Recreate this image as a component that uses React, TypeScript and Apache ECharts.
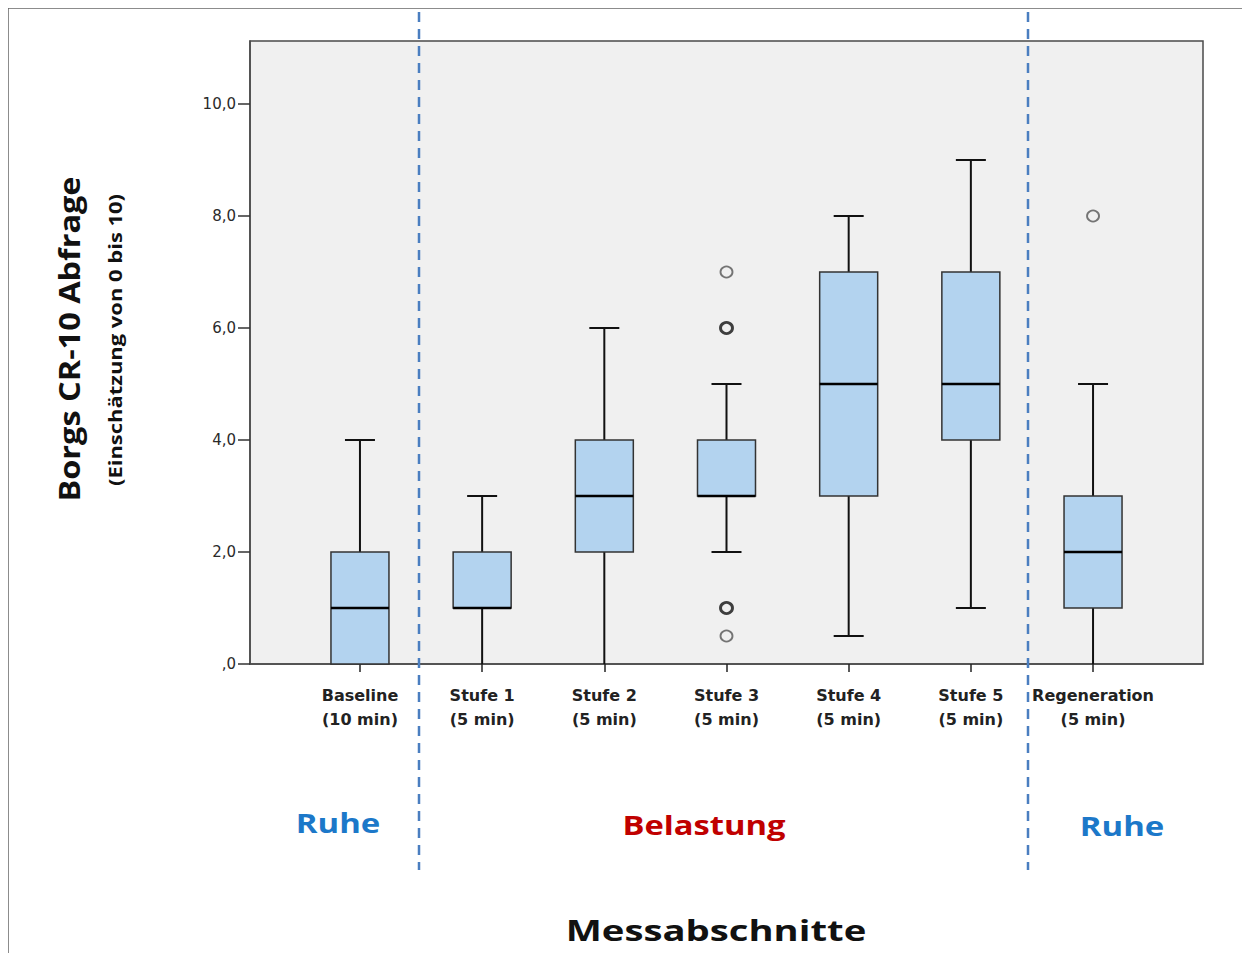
import React, { useEffect, useRef } from 'react';
import * as echarts from 'echarts';

const categories = ['Baseline', 'Stufe 1', 'Stufe 2', 'Stufe 3', 'Stufe 4', 'Stufe 5', 'Regeneration'];
const durations = ['(10 min)', '(5 min)', '(5 min)', '(5 min)', '(5 min)', '(5 min)', '(5 min)'];
const boxMin = [0, 0, 0, 2, 0.5, 1, 0];
const boxQ1 = [0, 1, 2, 3, 3, 4, 1];
const boxMedian = [1, 1, 3, 3, 5, 5, 2];
const boxQ3 = [2, 2, 4, 4, 7, 7, 3];
const boxMax = [4, 3, 6, 5, 8, 9, 5];
const outliers = [[3, 7], [3, 0.5], [6, 8]];
const outliersRepeated = [[3, 6], [3, 1]];
const yTicks = [0, 2, 4, 6, 8, 10];
const categoryIndex = [0, 1, 2, 3, 4, 5, 6];

const W = 1242;
const H = 945;

export default function App() {
  const ref = useRef<HTMLDivElement>(null);
  useEffect(() => {
    if (!ref.current) return;
    const chart = echarts.init(ref.current, undefined, { renderer: 'svg' });
    const boxData = categoryIndex.map((i) => [i, boxMin[i], boxQ1[i], boxMedian[i], boxQ3[i], boxMax[i]]);
    const HB = 29;
    const HC = 15;
    const option: any = {
      animation: false,
      backgroundColor: '#ffffff',
      grid: {
        left: 242,
        top: 33,
        width: 953,
        height: 623,
        show: true,
        backgroundColor: '#f0f0f0',
        borderColor: '#4a4a4a',
        borderWidth: 1.5,
        containLabel: false,
        outerBoundsMode: 'none',
      },
      xAxis: {
        type: 'value',
        min: -0.9,
        max: 6.9,
        splitLine: { show: false },
        axisLine: { show: true, onZero: false, lineStyle: { color: '#4a4a4a', width: 1.5 } },
        axisTick: { show: true, customValues: categoryIndex, length: 8, lineStyle: { color: '#222', width: 1.5 } },
        axisLabel: {
          customValues: categoryIndex,
          margin: 19,
          formatter: (v: number) => {
            const i = Math.round(v);
            return categories[i] + '\n' + durations[i];
          },
          fontFamily: 'DejaVu Sans',
          fontWeight: 'bold',
          fontSize: 16,
          lineHeight: 24,
          color: '#222',
        },
      },
      yAxis: {
        type: 'value',
        min: 0,
        max: 11.125,
        splitLine: { show: false },
        axisLine: { show: true, onZero: false, lineStyle: { color: '#4a4a4a', width: 1.5 } },
        axisTick: { show: true, customValues: yTicks, length: 12, lineStyle: { color: '#333', width: 1.5 } },
        axisLabel: {
          customValues: yTicks,
          margin: 14,
          formatter: (v: number) => (v === 0 ? ',0' : v.toFixed(1).replace('.', ',')),
          fontFamily: 'DejaVu Sans',
          fontSize: 15,
          color: '#2a2a2a',
        },
      },
      series: [
        {
          type: 'custom',
          data: boxData,
          encode: { x: 0, y: [1, 2, 3, 4, 5] },
          renderItem: (params: any, api: any) => {
            const x = api.value(0);
            const pMin = api.coord([x, api.value(1)]);
            const pQ1 = api.coord([x, api.value(2)]);
            const pMed = api.coord([x, api.value(3)]);
            const pQ3 = api.coord([x, api.value(4)]);
            const pMax = api.coord([x, api.value(5)]);
            const cx = pMin[0];
            const ws = { stroke: '#111', lineWidth: 2 };
            const children: any[] = [];
            if (api.value(5) > api.value(4)) {
              children.push({ type: 'line', shape: { x1: cx, y1: pQ3[1], x2: cx, y2: pMax[1] }, style: ws });
              children.push({ type: 'line', shape: { x1: cx - HC, y1: pMax[1], x2: cx + HC, y2: pMax[1] }, style: ws });
            }
            if (api.value(1) < api.value(2)) {
              children.push({ type: 'line', shape: { x1: cx, y1: pQ1[1], x2: cx, y2: pMin[1] }, style: ws });
              if (api.value(1) > 0) {
                children.push({ type: 'line', shape: { x1: cx - HC, y1: pMin[1], x2: cx + HC, y2: pMin[1] }, style: ws });
              }
            }
            children.push({
              type: 'rect',
              shape: { x: cx - HB, y: pQ3[1], width: HB * 2, height: pQ1[1] - pQ3[1] },
              style: { fill: '#b3d3ef', stroke: '#333', lineWidth: 1.5 },
            });
            children.push({
              type: 'line',
              shape: { x1: cx - HB, y1: pMed[1], x2: cx + HB, y2: pMed[1] },
              style: { stroke: '#000', lineWidth: 2.5 },
            });
            return { type: 'group', children };
          },
          z: 2,
        },
        {
          type: 'scatter',
          data: outliers,
          symbol: 'circle',
          symbolSize: [12, 11],
          itemStyle: { color: '#f0f0f0', borderColor: '#555', borderWidth: 1.8 },
          z: 3,
        },
        {
          type: 'scatter',
          data: outliersRepeated,
          symbol: 'circle',
          symbolSize: [12, 11],
          itemStyle: { color: '#f0f0f0', borderColor: '#111', borderWidth: 2.8 },
          z: 3,
        },
      ],
      graphic: [
        { type: 'line', shape: { x1: 0, y1: 0, x2: W, y2: 0 }, style: { stroke: '#666', lineWidth: 1.5 } },
        { type: 'line', shape: { x1: 0, y1: 0, x2: 0, y2: H }, style: { stroke: '#666', lineWidth: 1.5 } },
        { type: 'line', shape: { x1: 411, y1: 4, x2: 411, y2: 862 }, style: { stroke: '#4a7ec0', lineWidth: 2.5, lineDash: [10, 7] }, z: 10 },
        { type: 'line', shape: { x1: 1020, y1: 4, x2: 1020, y2: 862 }, style: { stroke: '#4a7ec0', lineWidth: 2.5, lineDash: [10, 7] }, z: 10 },
        {
          type: 'text', x: 330, y: 815, scaleX: 1.22,
          style: { text: 'Ruhe', fontFamily: 'Open Sans', fontWeight: 'bold', fontSize: 27, fill: '#1c78c9', align: 'center', verticalAlign: 'middle' },
        },
        {
          type: 'text', x: 696, y: 817, scaleX: 1.26,
          style: { text: 'Belastung', fontFamily: 'Open Sans', fontWeight: 'bold', fontSize: 26, fill: '#c00000', align: 'center', verticalAlign: 'middle' },
        },
        {
          type: 'text', x: 1114, y: 818, scaleX: 1.22,
          style: { text: 'Ruhe', fontFamily: 'Open Sans', fontWeight: 'bold', fontSize: 27, fill: '#1c78c9', align: 'center', verticalAlign: 'middle' },
        },
        {
          type: 'text', x: 708, y: 922, scaleX: 1.32,
          style: { text: 'Messabschnitte', fontFamily: 'Open Sans', fontWeight: 'bold', fontSize: 29, fill: '#111', align: 'center', verticalAlign: 'middle' },
        },
        {
          type: 'text', x: 61, y: 331, rotation: Math.PI / 2, scaleX: 1.16,
          style: { text: 'Borgs CR-10 Abfrage', fontFamily: 'Open Sans', fontWeight: 'bold', fontSize: 28, fill: '#111', align: 'center', verticalAlign: 'middle' },
        },
        {
          type: 'text', x: 107, y: 332, rotation: Math.PI / 2, scaleX: 1.22,
          style: { text: '(Einschätzung von 0 bis 10)', fontFamily: 'Open Sans', fontWeight: 'bold', fontSize: 18, fill: '#111', align: 'center', verticalAlign: 'middle' },
        },
      ],
    };
    chart.setOption(option);
    return () => chart.dispose();
  }, []);
  return <div ref={ref} style={{ width: W, height: H }} />;
}
